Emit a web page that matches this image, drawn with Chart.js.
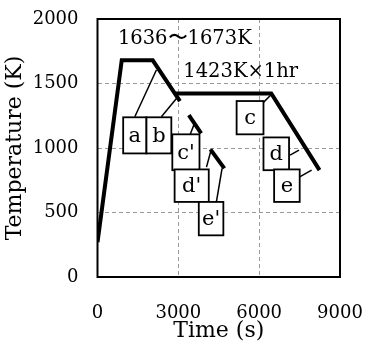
<!DOCTYPE html>
<html><head><meta charset="utf-8">
<script src="https://cdn.jsdelivr.net/npm/chart.js@4"></script>
<style>html,body{margin:0;padding:0;background:#fff}</style>
</head><body>
<canvas id="c" width="365" height="349"></canvas>
<script>
// Main heat-treatment profile (time s, temperature K)
const profileTime = [0, 900, 2050, 3060];
const profileTemp = [270, 1680, 1680, 1364];
const holdTime = [2900, 6450, 8240];
const holdTemp = [1423, 1423, 828];
// short quench branches
const branchCTime = [3390, 3848];
const branchCTemp = [1255, 1113];
const branchDTime = [4191, 4708];
const branchDTemp = [989, 842];
// sample label boxes (data coords)
const boxLabels = ['a', 'b', "c'", "d'", "e'", 'c', 'd', 'e'];
const boxTimeFrom = [953, 1817, 2777, 2862, 3759, 5163, 6160, 6555];
const boxTimeTo = [1817, 2740, 3785, 4129, 4671, 6160, 7109, 7504];
const boxTempTop = [1238, 1238, 1106, 834, 582, 1364, 1082, 834];
const boxTempBottom = [958, 958, 828, 582, 323, 1106, 828, 582];
// leader lines from boxes to curve
const leaderTimeFrom = [1385, 2371, 3442, 4044, 4413, 6123, 7146, 7504];
const leaderTempFrom = [1242, 1242, 1106, 852, 582, 1346, 945, 776];
const leaderTimeTo = [2186, 2984, 3600, 4217, 4623, 6433, 7478, 7947];
const leaderTempTo = [1605, 1398, 1191, 984, 842, 1411, 984, 828];
// annotation texts
const noteTexts = ['1636\u301C1673K', '1423K\u00D71hr'];
const noteTime = [757, 3183];
const noteTemp = [1845, 1592];
// axis ticks
const xTicks = [0, 3000, 6000, 9000];
const yTicks = [0, 500, 1000, 1500, 2000];

const FONT = '"DejaVu Serif", serif';
const pts = (xs, ys) => xs.map((x, i) => ({x, y: ys[i]}));

const datasets = [];
const thick = {borderColor: '#000', borderWidth: 4, pointRadius: 0, showLine: true, borderJoinStyle: 'miter', fill: false};
datasets.push(Object.assign({data: pts(profileTime, profileTemp)}, thick));
datasets.push(Object.assign({data: pts(holdTime, holdTemp)}, thick));
datasets.push(Object.assign({data: pts(branchCTime, branchCTemp)}, thick));
datasets.push(Object.assign({data: pts(branchDTime, branchDTemp)}, thick));
leaderTimeFrom.forEach((t, i) => {
  datasets.push({data: [{x: t, y: leaderTempFrom[i]}, {x: leaderTimeTo[i], y: leaderTempTo[i]}],
    borderColor: '#000', borderWidth: 1.5, pointRadius: 0, showLine: true, fill: false});
});

const overlay = {
  id: 'overlay',
  afterDatasetsDraw(chart) {
    const {ctx, chartArea: a, scales: {x, y}} = chart;
    ctx.save();
    ctx.font = '21px ' + FONT;
    ctx.textAlign = 'center';
    ctx.textBaseline = 'middle';
    boxLabels.forEach((lab, i) => {
      const x1 = x.getPixelForValue(boxTimeFrom[i]), x2 = x.getPixelForValue(boxTimeTo[i]);
      const y1 = y.getPixelForValue(boxTempTop[i]), y2 = y.getPixelForValue(boxTempBottom[i]);
      ctx.fillStyle = '#fff';
      ctx.fillRect(x1, y1, x2 - x1, y2 - y1);
      ctx.lineWidth = 1.8;
      ctx.strokeStyle = '#000';
      ctx.strokeRect(x1, y1, x2 - x1, y2 - y1);
      ctx.fillStyle = '#000';
      ctx.fillText(lab, (x1 + x2) / 2, (y1 + y2) / 2 + 1);
    });
    ctx.textAlign = 'left';
    ctx.font = '19.5px ' + FONT;
    noteTexts.forEach((t, i) => {
      ctx.fillText(t, x.getPixelForValue(noteTime[i]), y.getPixelForValue(noteTemp[i]));
    });
    ctx.lineWidth = 2;
    ctx.strokeStyle = '#000';
    ctx.strokeRect(a.left, a.top, a.right - a.left, a.bottom - a.top);
    ctx.restore();
  }
};

const noPad = s => { s.paddingTop = 0; s.paddingBottom = 0; s.paddingLeft = 0; s.paddingRight = 0; };

new Chart(document.getElementById('c'), {
  type: 'scatter',
  data: {datasets},
  plugins: [overlay],
  options: {
    responsive: false,
    animation: false,
    events: [],
    layout: {padding: {top: 19, right: 25, left: 0, bottom: 0}},
    plugins: {legend: {display: false}, tooltip: {enabled: false}},
    scales: {
      x: {
        type: 'linear', min: 0, max: 9000,
        afterBuildTicks: s => { s.ticks = xTicks.map(v => ({value: v})); },
        afterFit: s => { s.height = 72; noPad(s); },
        grid: {color: '#999', lineWidth: 1, drawTicks: false},
        border: {display: false, dash: [4, 3]},
        ticks: {color: '#000', padding: 26, font: {family: FONT, size: 18}, maxRotation: 0, callback: v => String(v)},
        title: {display: true, text: 'Time (s)', color: '#000', font: {family: FONT, size: 22}, padding: {top: 0, bottom: 5}}
      },
      y: {
        type: 'linear', min: 0, max: 2000,
        afterBuildTicks: s => { s.ticks = yTicks.map(v => ({value: v})); },
        afterFit: s => { s.width = 97.5; noPad(s); },
        grid: {color: '#999', lineWidth: 1, drawTicks: false},
        border: {display: false, dash: [4, 3]},
        ticks: {color: '#000', padding: 19, font: {family: FONT, size: 18}, callback: v => String(v)},
        title: {display: true, text: 'Temperature (K)', color: '#000', font: {family: FONT, size: 22}, padding: {top: 2, bottom: 0}}
      }
    }
  }
});
</script>
</body></html>
